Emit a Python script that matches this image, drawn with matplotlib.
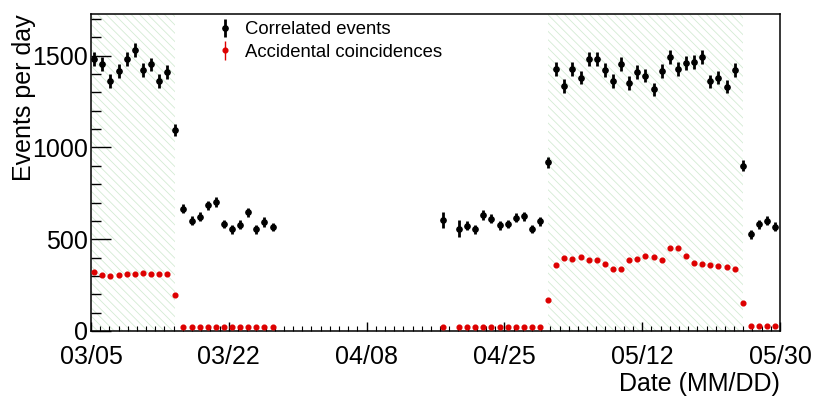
import numpy as np
import matplotlib
matplotlib.use("Agg")
import matplotlib.pyplot as plt
from matplotlib.ticker import MultipleLocator, FixedLocator

plt.rcParams['font.family'] = ['Liberation Sans', 'DejaVu Sans']
plt.rcParams['hatch.linewidth'] = 0.6

# ---------------- data ----------------
# day index counted from 03/05
days = list(range(0, 23)) + [43] + list(range(45, 85))

correlated = [1480, 1454, 1361, 1416, 1480, 1530, 1422, 1452, 1361, 1412,
              1094,
              667, 600, 622, 684, 702, 583, 555, 578, 647, 555, 594, 567,
              604,
              558, 573, 553, 632, 611, 575, 583, 618, 624, 556, 597,
              920,
              1425, 1334, 1427, 1380, 1480, 1480, 1422, 1363, 1454, 1352, 1409,
              1391, 1316, 1416, 1494, 1425, 1458, 1465, 1491, 1360, 1380, 1330, 1422,
              900,
              526, 582, 600, 569]

correlated_err = [38, 38, 38, 38, 38, 39, 38, 38, 37, 38,
                  33,
                  26, 25, 25, 26, 27, 24, 24, 24, 25, 24, 25, 24,
                  42,
                  45, 24, 24, 25, 25, 24, 24, 25, 25, 24, 24,
                  30,
                  38, 37, 38, 37, 38, 38, 38, 37, 38, 37, 38,
                  37, 36, 38, 39, 38, 38, 38, 39, 37, 37, 36, 38,
                  30,
                  23, 24, 24, 24]

accidental = [322, 307, 300, 304, 313, 313, 318, 311, 309, 313,
              195,
              24, 24, 24, 24, 24, 24, 24, 24, 24, 24, 24, 24,
              24,
              24, 24, 24, 24, 24, 24, 24, 24, 24, 24, 24,
              167,
              358, 396, 391, 405, 389, 385, 367, 340, 336, 387, 393,
              409, 402, 385, 451, 451, 407, 369, 364, 362, 353, 349, 338,
              155,
              26, 26, 26, 26]
accidental_err = 6

shade_spans = [(0.0, 10.4), (56.4, 80.4)]

tick_days = [0, 17, 34, 51, 68, 85]
tick_labels = ['03/05', '03/22', '04/08', '04/25', '05/12', '05/30']

# ---------------- figure ----------------
fig = plt.figure(figsize=(8.30, 3.97), dpi=100)
ax = fig.add_axes([91 / 830, 1 - 331 / 397, 689 / 830, 317 / 397])

x = np.array(days) + 0.4

for a, b in shade_spans:
    ax.axvspan(a, b, facecolor='none', edgecolor='#d3ebd3', hatch='\\' * 4,
               linewidth=0, zorder=0)

acc = ax.errorbar(x, accidental, yerr=accidental_err, fmt='o', color='#dd0000',
                  markersize=3.4, elinewidth=1.0, capsize=0, zorder=3,
                  label='Accidental coincidences')
cor = ax.errorbar(x, correlated, yerr=correlated_err, fmt='o', color='black',
                  markersize=3.8, elinewidth=2.0, capsize=0, zorder=4,
                  label='Correlated events')

ax.set_xlim(0, 85)
ax.set_ylim(0, 1727)

ax.xaxis.set_major_locator(FixedLocator(tick_days))
ax.set_xticklabels(tick_labels)
ax.xaxis.set_minor_locator(MultipleLocator(17 / 15))
ax.yaxis.set_major_locator(MultipleLocator(500))
ax.yaxis.set_minor_locator(MultipleLocator(100))

ax.tick_params(axis='both', which='both', direction='in', labelsize=18,
               top=False, right=False, color='black')
ax.tick_params(axis='y', which='major', length=14.4, width=1.0, pad=2)
ax.tick_params(axis='y', which='minor', length=7.2, width=1.0)
ax.tick_params(axis='x', which='major', length=6.8, width=1.0, pad=10)
ax.tick_params(axis='x', which='minor', length=3.4, width=0.8)

for s in ax.spines.values():
    s.set_linewidth(1.1)

ax.set_xlabel('Date (MM/DD)', fontsize=18, loc='right')
ax.xaxis.set_label_coords(1.0, -0.13)
ax.set_ylabel('Events per day', fontsize=18, loc='top')
ax.yaxis.set_label_coords(-0.08, 1.0)

ax.legend(handles=[cor, acc], loc='upper left', bbox_to_anchor=(0.17, 1.012),
          frameon=False, fontsize=13.3, handlelength=0.6, handletextpad=0.8,
          labelspacing=0.3, borderaxespad=0.2)

fig.savefig('out.png', dpi=100)
